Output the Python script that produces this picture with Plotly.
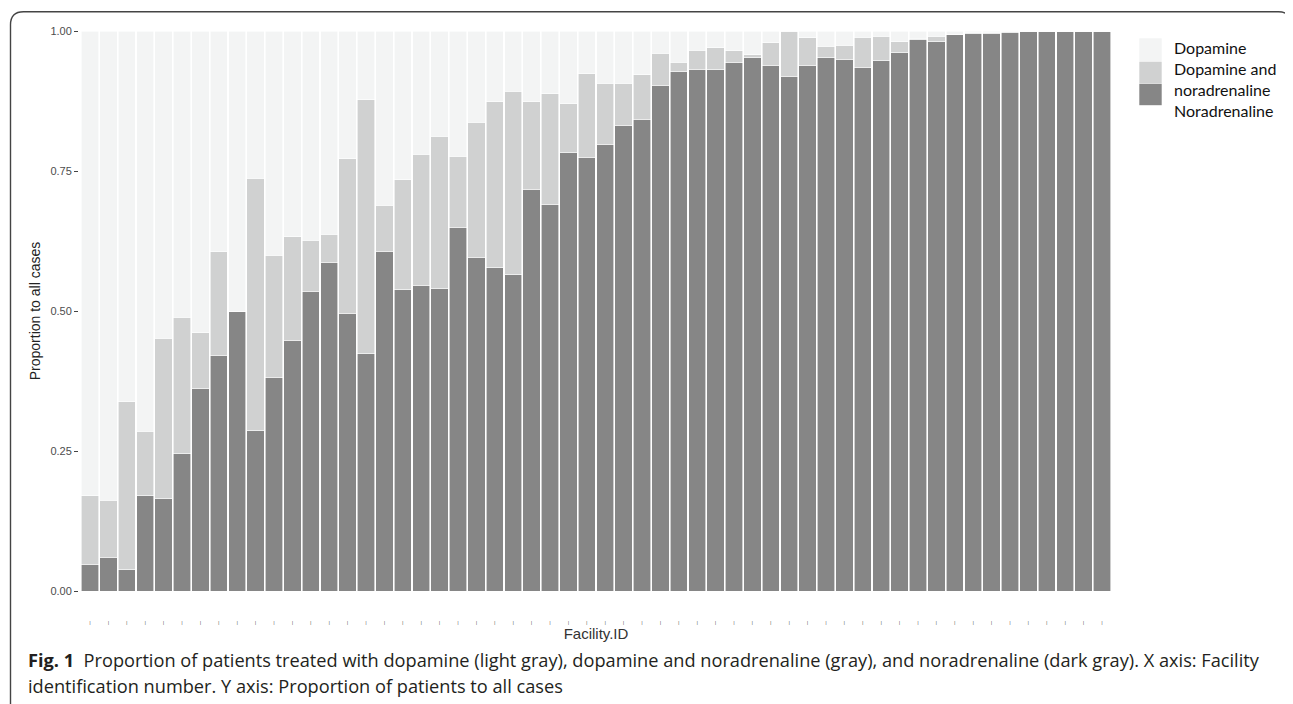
import plotly.graph_objects as go

# ---- data (proportions per facility) ----
facility_ids = [str(i) for i in range(1, 57)]

noradrenaline = [0.048, 0.060, 0.038, 0.170, 0.165, 0.245, 0.361, 0.421, 0.500, 0.286,
                 0.382, 0.448, 0.535, 0.587, 0.496, 0.424, 0.607, 0.538, 0.546, 0.540,
                 0.650, 0.596, 0.577, 0.565, 0.717, 0.691, 0.783, 0.775, 0.798, 0.832,
                 0.842, 0.903, 0.927, 0.932, 0.931, 0.944, 0.952, 0.939, 0.919, 0.939,
                 0.952, 0.950, 0.935, 0.947, 0.961, 0.984, 0.981, 0.993, 0.995, 0.996,
                 0.997, 0.999, 1.000, 1.000, 1.000, 1.000]

dopamine_and_noradrenaline = [0.122, 0.102, 0.300, 0.115, 0.286, 0.244, 0.100, 0.185, 0.000, 0.451,
                              0.218, 0.185, 0.091, 0.050, 0.276, 0.453, 0.082, 0.196, 0.234, 0.272,
                              0.126, 0.241, 0.297, 0.327, 0.157, 0.197, 0.087, 0.149, 0.109, 0.075,
                              0.080, 0.057, 0.017, 0.034, 0.039, 0.021, 0.006, 0.040, 0.081, 0.049,
                              0.021, 0.025, 0.054, 0.044, 0.020, 0.003, 0.010, 0.001, 0.002, 0.001,
                              0.002, 0.001, 0.000, 0.000, 0.000, 0.000]

dopamine = [0.830, 0.838, 0.662, 0.715, 0.549, 0.511, 0.539, 0.394, 0.500, 0.263,
            0.400, 0.367, 0.374, 0.363, 0.228, 0.123, 0.311, 0.266, 0.220, 0.188,
            0.224, 0.163, 0.126, 0.108, 0.126, 0.112, 0.130, 0.076, 0.093, 0.093,
            0.078, 0.040, 0.056, 0.034, 0.030, 0.035, 0.042, 0.021, 0.000, 0.012,
            0.027, 0.025, 0.011, 0.009, 0.019, 0.013, 0.009, 0.006, 0.003, 0.003,
            0.001, 0.000, 0.000, 0.000, 0.000, 0.000]

series_names = ["Noradrenaline", "Dopamine and noradrenaline", "Dopamine"]
series_colors = ["#868686", "#d0d1d1", "#f3f4f4"]

y_tickvals = [0, 0.25, 0.5, 0.75, 1.0]
y_ticktext = ["0.00", "0.25", "0.50", "0.75", "1.00"]
x_ticktext = ["|"] * len(facility_ids)

# ---- layout geometry (page body has an 8px margin) ----
OFF = 8
FW, FH = 1293 - OFF, 704 - OFF
ML, MT = 79 - OFF, 31 - OFF
PW, PH = 1034, 560
MR = FW - ML - PW
MB = FH - MT - PH


def pxx(x):
    return (x - OFF - ML) / PW


def pxy(y):
    return (MT + PH - (y - OFF)) / PH


fig = go.Figure()
for vals, name, col in zip([noradrenaline, dopamine_and_noradrenaline, dopamine],
                           series_names, series_colors):
    fig.add_trace(go.Bar(
        x=facility_ids, y=vals, name=name,
        marker=dict(color=col, line=dict(color="#ffffff", width=0.6)),
        showlegend=False,
    ))

# manual legend (contiguous keys as in reference)
keys = [("Dopamine", "#f3f4f4", 38.3, 61.2),
        ("Dopamine and noradrenaline", "#d0d1d1", 61.7, 83.3),
        ("Noradrenaline", "#868686", 83.8, 105.2)]
shapes = []
for _, col, y0, y1 in keys:
    shapes.append(dict(type="rect", xref="paper", yref="paper",
                       x0=pxx(1139.3), x1=pxx(1161.7), y0=pxy(y1), y1=pxy(y0),
                       fillcolor=col, line=dict(width=0), layer="above"))

# figure frame (rounded box, open at the bottom)
l, t, r, b, rad = 10.5, 11.8, 1291.5, 730, 13
path = (f"M {pxx(l)},{pxy(b)} L {pxx(l)},{pxy(t + rad)} "
        f"Q {pxx(l)},{pxy(t)} {pxx(l + rad)},{pxy(t)} "
        f"L {pxx(r - rad)},{pxy(t)} Q {pxx(r)},{pxy(t)} {pxx(r)},{pxy(t + rad)} "
        f"L {pxx(r)},{pxy(b)}")
shapes.append(dict(type="path", xref="paper", yref="paper", path=path,
                   line=dict(color="#444444", width=1.4)))

leg_font = dict(family="Lato, Open Sans, sans-serif", size=16, color="#111111")
annotations = [
    dict(text="Dopamine", x=pxx(1171.5), y=pxy(47.3)),
    dict(text="Dopamine and<br>noradrenaline", x=pxx(1171.5), y=pxy(78.6)),
    dict(text="Noradrenaline", x=pxx(1171.5), y=pxy(110)),
]
for a in annotations:
    a.update(xref="paper", yref="paper", xanchor="left", yanchor="middle",
             showarrow=False, align="left", font=leg_font)

cap_font = dict(family="Open Sans, Noto Sans, sans-serif", size=18.2, color="#231f20")
annotations += [
    dict(text="<b>Fig. 1</b>  Proportion of patients treated with dopamine (light gray), dopamine and "
              "noradrenaline (gray), and noradrenaline (dark gray). X axis: Facility",
         x=pxx(26), y=pxy(660)),
    dict(text="identification number. Y axis: Proportion of patients to all cases",
         x=pxx(26), y=pxy(686)),
]
for a in annotations[-2:]:
    a.update(xref="paper", yref="paper", xanchor="left", yanchor="middle",
             showarrow=False, align="left", font=cap_font)

fig.update_layout(
    width=FW, height=FH,
    margin=dict(l=ML, r=MR, t=MT, b=MB, autoexpand=False),
    barmode="stack", bargap=0.06,
    paper_bgcolor="white", plot_bgcolor="white",
    font=dict(family="Liberation Sans, Arial, sans-serif"),
    shapes=shapes, annotations=annotations,
)
fig.update_xaxes(
    type="category", range=[-0.6, 55.6],
    tickmode="array", tickvals=facility_ids, ticktext=x_ticktext,
    ticks="", showgrid=False, zeroline=False, showline=False,
    tickfont=dict(size=4, color="#222222"), ticklabelstandoff=28,
    title=dict(text="Facility.ID", font=dict(size=15, color="#333333"), standoff=2),
)
fig.update_yaxes(
    range=[0, 1], tickmode="array", tickvals=y_tickvals, ticktext=y_ticktext,
    ticks="outside", ticklen=4, tickwidth=1, tickcolor="#444444",
    showgrid=False, zeroline=False, showline=False,
    tickfont=dict(size=11, color="#4d4d4d"),
    title=dict(text="Proportion to all cases", font=dict(size=14, color="#222222"), standoff=6),
)

fig.write_html("out.html")
